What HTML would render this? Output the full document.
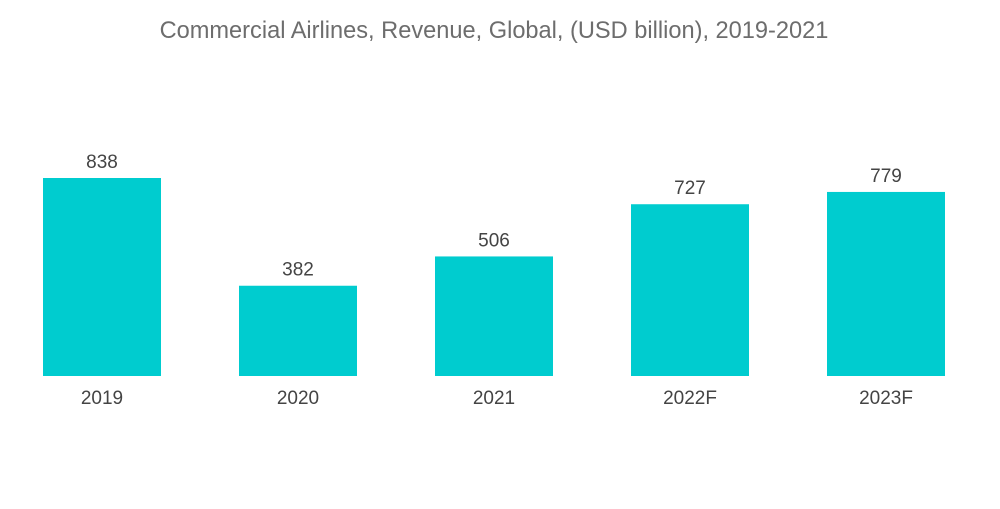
<!DOCTYPE html>
<html><head><meta charset="utf-8"><style>
body{margin:0;background:#fff;width:1000px;height:504px;overflow:hidden;font-family:"Liberation Sans",sans-serif;}
</style></head><body>
<svg width="1000" height="504">
<text x="494" y="38" text-anchor="middle" font-size="23.6" fill="#6d6d6d">Commercial Airlines, Revenue, Global, (USD billion), 2019-2021</text>
<g id="bars"></g>
</svg>
<script>
const categories=["2019","2020","2021","2022F","2023F"];
const values=[838,382,506,727,779];
const baseY=376, scale=198/838, x0=102, step=196, bw=118;
const g=document.getElementById('bars');
const ns="http://www.w3.org/2000/svg";
categories.forEach((c,i)=>{
  const cx=x0+i*step, h=values[i]*scale;
  const r=document.createElementNS(ns,'rect');
  r.setAttribute('x',cx-bw/2);r.setAttribute('y',baseY-h);r.setAttribute('width',bw);r.setAttribute('height',h);r.setAttribute('fill','#00cccf');
  
  
  g.appendChild(r);
  const v=document.createElementNS(ns,'text');
  v.setAttribute('x',cx);v.setAttribute('y',baseY-h-10);v.setAttribute('text-anchor','middle');v.setAttribute('font-size','19');v.setAttribute('fill','#444');
  v.textContent=values[i];
  
  
  g.appendChild(v);
  const t=document.createElementNS(ns,'text');
  t.setAttribute('x',cx);t.setAttribute('y',404);t.setAttribute('text-anchor','middle');t.setAttribute('font-size','19');t.setAttribute('fill','#444');
  t.textContent=c;
  
  
  g.appendChild(t);
});
</script>
</body></html>
